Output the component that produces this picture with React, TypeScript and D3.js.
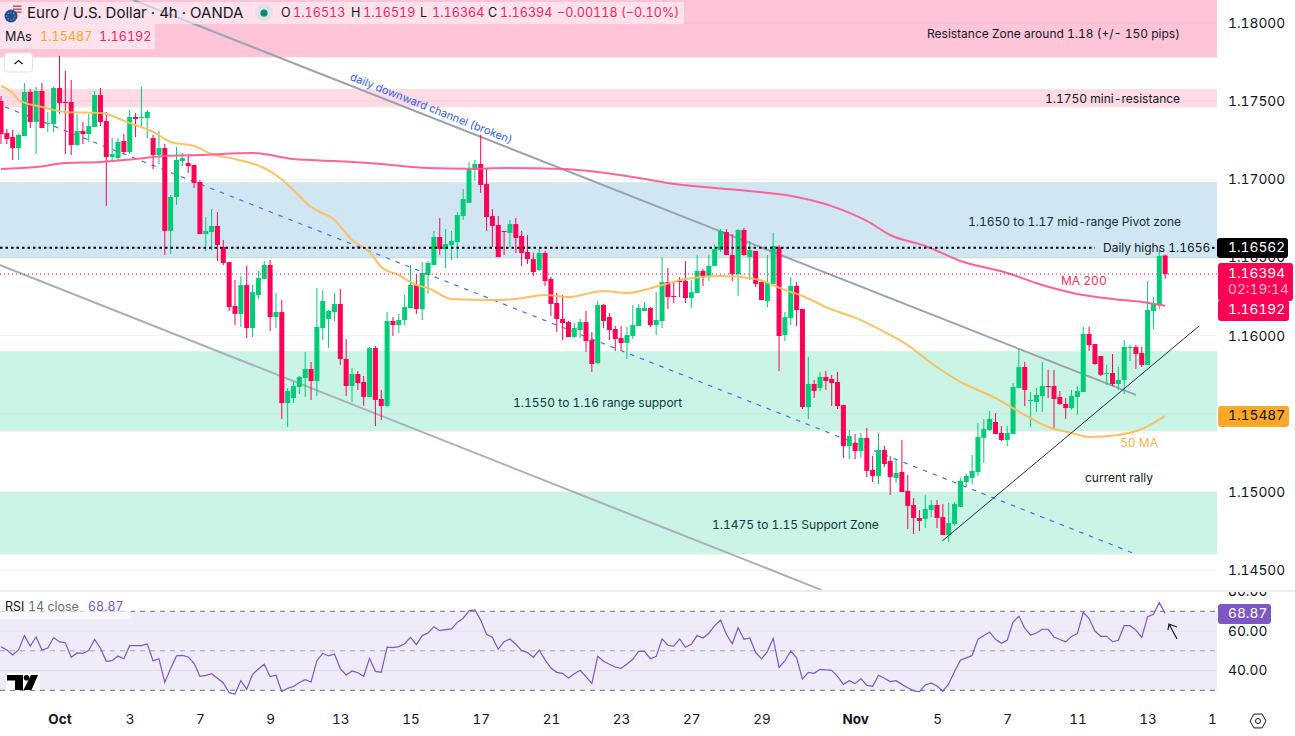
import { useEffect, useRef } from 'react';
import * as d3 from 'd3';

const W = 1295;
const H = 736;
const PANE_R = 1217;
const FONT = 'Inter, "Noto Sans", sans-serif';

const RED = '#ff0055';
const GREEN = '#00cc77';
const PINK = '#ff5c8f';
const ORANGE = '#ffbe5c';
const PURPLE = '#7e57c2';
const INK = '#131722';

// 4h candles, oldest first
const opens = [
  1.17501,1.17296,1.17271,1.17200,1.17277,1.17559,1.17367,1.17565,1.17354,1.17354,
  1.17584,1.17495,1.17495,1.17220,1.17309,1.17290,1.17335,1.17539,1.17373,1.17143,
  1.17136,1.17245,1.17175,1.17399,1.17392,1.17392,1.17264,1.17156,1.17200,1.16670,
  1.16887,1.17117,1.17104,1.17092,1.16983,1.16650,1.16663,1.16702,1.16567,1.16471,
  1.16190,1.16139,1.16324,1.16049,1.16260,1.16363,1.16452,1.16119,1.16151,1.15569,
  1.15601,1.15672,1.15729,1.15787,1.15710,1.16049,1.16107,1.16151,1.16203,1.15851,
  1.15678,1.15755,1.15704,1.15608,1.15921,1.15595,1.15550,1.16094,1.16068,1.16100,
  1.16177,1.16324,1.16171,1.16388,1.16452,1.16631,1.16554,1.16580,1.16599,1.16765,
  1.16849,1.17060,1.17098,1.16970,1.16765,1.16708,1.16670,1.16657,1.16714,1.16638,
  1.16535,1.16490,1.16420,1.16529,1.16363,1.16209,1.16107,1.16087,1.15992,1.16036,
  1.16087,1.15972,1.15825,1.16196,1.16119,1.16043,1.15985,1.15953,1.15998,1.16062,
  1.16158,1.16177,1.16068,1.16094,1.16343,1.16254,1.16356,1.16350,1.16241,1.16273,
  1.16414,1.16382,1.16446,1.16548,1.16663,1.16516,1.16394,1.16676,1.16503,1.16542,
  1.16343,1.16222,1.16331,1.16567,1.16004,1.16113,1.16318,1.16171,1.15544,1.15691,
  1.15665,1.15736,1.15723,1.15704,1.15557,1.15294,1.15314,1.15262,1.15346,1.15141,
  1.15103,1.15269,1.15198,1.15090,1.15128,1.15007,1.14917,1.14834,1.14828,1.14885,
  1.14917,1.14840,1.14725,1.14796,1.14904,1.15064,1.15090,1.15128,1.15346,1.15397,
  1.15448,1.15378,1.15333,1.15371,1.15665,1.15800,1.15582,1.15576,1.15614,1.15678,
  1.15678,1.15608,1.15563,1.15537,1.15608,1.15640,1.16011,1.15947,1.15870,1.15755,
  1.15761,1.15691,1.15717,1.15921,1.15928,1.15889,1.15813,1.16158,1.16196,1.16513,
];
const highs = [
  1.17533,1.17322,1.17316,1.17290,1.17616,1.17578,1.17591,1.17616,1.17431,1.17591,
  1.17789,1.17693,1.17635,1.17418,1.17367,1.17418,1.17565,1.17584,1.17431,1.17264,
  1.17264,1.17290,1.17443,1.17424,1.17591,1.17443,1.17284,1.17309,1.17226,1.16900,
  1.17207,1.17168,1.17156,1.17092,1.16996,1.16759,1.16810,1.16791,1.16612,1.16471,
  1.16356,1.16382,1.16446,1.16324,1.16414,1.16478,1.16484,1.16273,1.16228,1.15665,
  1.15704,1.15742,1.15896,1.15832,1.16305,1.16292,1.16164,1.16273,1.16299,1.15979,
  1.15793,1.15774,1.15742,1.15928,1.15934,1.15653,1.16151,1.16119,1.16139,1.16260,
  1.16452,1.16394,1.16471,1.16478,1.16670,1.16753,1.16682,1.16670,1.16791,1.16938,
  1.17111,1.17124,1.17284,1.17072,1.16810,1.16765,1.16670,1.16740,1.16753,1.16670,
  1.16644,1.16529,1.16554,1.16542,1.16375,1.16273,1.16260,1.16094,1.16081,1.16107,
  1.16158,1.16024,1.16222,1.16203,1.16145,1.16062,1.16062,1.16056,1.16196,1.16203,
  1.16215,1.16183,1.16279,1.16503,1.16433,1.16343,1.16375,1.16478,1.16356,1.16516,
  1.16426,1.16516,1.16586,1.16682,1.16682,1.16650,1.16682,1.16689,1.16606,1.16542,
  1.16343,1.16516,1.16657,1.16580,1.16151,1.16375,1.16343,1.16171,1.15864,1.15717,
  1.15768,1.15774,1.15749,1.15768,1.15557,1.15397,1.15371,1.15378,1.15410,1.15230,
  1.15378,1.15294,1.15230,1.15211,1.15333,1.15109,1.14962,1.14885,1.14981,1.14949,
  1.14949,1.14923,1.14930,1.14936,1.15090,1.15115,1.15237,1.15442,1.15467,1.15518,
  1.15505,1.15422,1.15422,1.15697,1.15915,1.15832,1.15640,1.15665,1.15832,1.15781,
  1.15781,1.15646,1.15601,1.15653,1.15678,1.16056,1.16056,1.15947,1.15870,1.15813,
  1.15883,1.15800,1.15972,1.15940,1.15940,1.15928,1.16350,1.16247,1.16561,1.16519,
];
const lows = [
  1.17226,1.17226,1.17124,1.17124,1.17277,1.17328,1.17162,1.17328,1.17303,1.17303,
  1.17418,1.17162,1.17156,1.17213,1.17226,1.17239,1.17335,1.17341,1.16829,1.17124,
  1.17124,1.17162,1.17162,1.17271,1.17328,1.17264,1.17066,1.17098,1.16516,1.16522,
  1.16836,1.17085,1.17040,1.16945,1.16650,1.16542,1.16548,1.16478,1.16452,1.16158,
  1.16068,1.16056,1.15985,1.15992,1.16235,1.16363,1.16030,1.16049,1.15467,1.15416,
  1.15569,1.15627,1.15608,1.15589,1.15614,1.15972,1.15921,1.16094,1.15813,1.15614,
  1.15576,1.15653,1.15550,1.15608,1.15422,1.15461,1.15544,1.15998,1.16017,1.16068,
  1.16177,1.16139,1.16100,1.16267,1.16452,1.16516,1.16433,1.16484,1.16497,1.16740,
  1.16849,1.16989,1.16913,1.16670,1.16567,1.16503,1.16516,1.16567,1.16529,1.16446,
  1.16458,1.16382,1.16414,1.16318,1.16126,1.16024,1.15972,1.15992,1.15985,1.15985,
  1.15896,1.15768,1.15819,1.16049,1.15972,1.15902,1.15908,1.15851,1.15979,1.16062,
  1.16158,1.16056,1.16004,1.16049,1.16171,1.16209,1.16247,1.16209,1.16177,1.16273,
  1.16318,1.16350,1.16446,1.16535,1.16516,1.16350,1.16254,1.16510,1.16356,1.16311,
  1.16228,1.16183,1.16331,1.15774,1.15966,1.16068,1.16062,1.15531,1.15467,1.15601,
  1.15646,1.15653,1.15550,1.15531,1.15218,1.15211,1.15211,1.15218,1.15096,1.15064,
  1.15051,1.15160,1.14981,1.15058,1.15000,1.14764,1.14732,1.14751,1.14770,1.14840,
  1.14770,1.14725,1.14680,1.14783,1.14904,1.15032,1.15051,1.15103,1.15186,1.15390,
  1.15371,1.15326,1.15294,1.15371,1.15665,1.15550,1.15416,1.15512,1.15512,1.15601,
  1.15410,1.15557,1.15467,1.15525,1.15493,1.15640,1.15902,1.15813,1.15742,1.15685,
  1.15678,1.15653,1.15627,1.15838,1.15787,1.15800,1.15813,1.16043,1.16171,1.16364,
];
const closes = [
  1.17290,1.17258,1.17200,1.17284,1.17559,1.17367,1.17565,1.17328,1.17360,1.17584,
  1.17488,1.17488,1.17220,1.17309,1.17290,1.17341,1.17539,1.17367,1.17143,1.17162,
  1.17239,1.17175,1.17399,1.17386,1.17399,1.17431,1.17156,1.17200,1.16670,1.16887,
  1.17124,1.17136,1.17085,1.16977,1.16650,1.16670,1.16702,1.16580,1.16465,1.16183,
  1.16139,1.16324,1.16049,1.16279,1.16369,1.16452,1.16119,1.16151,1.15569,1.15646,
  1.15678,1.15736,1.15787,1.15710,1.16056,1.16222,1.16158,1.16203,1.15851,1.15678,
  1.15755,1.15697,1.15608,1.15921,1.15589,1.15550,1.16094,1.16068,1.16100,1.16183,
  1.16324,1.16171,1.16401,1.16465,1.16631,1.16554,1.16586,1.16606,1.16772,1.16874,
  1.17066,1.17098,1.16964,1.16759,1.16702,1.16503,1.16663,1.16714,1.16625,1.16529,
  1.16490,1.16407,1.16529,1.16350,1.16203,1.16107,1.16081,1.15992,1.16049,1.16087,
  1.15966,1.15819,1.16196,1.16094,1.16036,1.15979,1.15953,1.16004,1.16068,1.16177,
  1.16177,1.16068,1.16100,1.16343,1.16247,1.16247,1.16343,1.16241,1.16279,1.16414,
  1.16382,1.16446,1.16554,1.16670,1.16516,1.16394,1.16676,1.16516,1.16548,1.16331,
  1.16228,1.16337,1.16574,1.15998,1.16119,1.16318,1.16164,1.15544,1.15691,1.15646,
  1.15736,1.15710,1.15697,1.15550,1.15294,1.15358,1.15262,1.15346,1.15135,1.15103,
  1.15269,1.15179,1.15096,1.15122,1.15000,1.14911,1.14834,1.14815,1.14892,1.14917,
  1.14834,1.14725,1.14802,1.14923,1.15071,1.15103,1.15135,1.15352,1.15403,1.15467,
  1.15371,1.15333,1.15378,1.15672,1.15800,1.15653,1.15589,1.15621,1.15678,1.15672,
  1.15595,1.15563,1.15537,1.15614,1.15646,1.16011,1.15940,1.15819,1.15749,1.15761,
  1.15691,1.15717,1.15928,1.15928,1.15883,1.15813,1.16164,1.16203,1.16510,1.16394,
];

const rsiValues = [
  52.1,50.4,47.9,50.4,57.7,52.4,57.0,50.4,51.4,56.7,
  54.5,54.1,46.7,48.9,48.7,50.1,55.8,51.3,44.7,45.0,
  47.4,46.0,52.6,52.6,52.6,53.5,44.9,46.0,34.0,41.1,
  47.4,47.7,46.9,43.7,37.1,37.6,38.4,36.1,33.7,28.8,
  28.1,34.9,30.5,38.1,40.8,43.2,36.9,37.6,29.3,31.0,
  31.9,34.0,35.4,34.2,45.0,48.7,47.4,48.4,41.0,37.8,
  39.8,38.9,37.1,46.2,39.6,39.1,51.9,51.6,52.1,53.6,
  56.8,53.1,57.7,59.0,62.2,60.2,60.7,61.1,64.4,66.5,
  70.2,70.7,65.6,58.4,56.8,50.8,54.6,56.0,53.3,50.1,
  49.1,46.7,50.4,45.4,41.3,39.1,38.6,36.2,38.4,40.1,
  36.9,33.5,47.2,44.7,43.2,41.8,41.1,43.3,45.7,49.7,
  49.7,46.0,47.2,56.0,52.8,52.4,56.0,51.8,53.3,57.7,
  56.5,58.9,62.7,65.6,58.4,53.5,61.7,55.8,56.5,49.2,
  45.9,49.6,56.3,41.6,44.9,49.9,46.4,35.7,39.1,38.6,
  40.6,40.3,40.1,37.1,33.0,34.9,33.4,35.9,32.5,32.0,
  37.6,36.1,34.4,34.9,33.0,31.3,29.7,29.3,32.7,33.7,
  32.2,29.5,33.2,39.5,45.2,46.4,47.6,55.8,57.7,59.4,
  55.8,53.8,55.3,64.6,67.5,61.4,58.0,59.0,60.9,60.9,
  57.0,55.7,54.5,57.3,58.7,69.5,66.3,60.0,57.3,57.3,
  54.6,55.3,62.7,62.7,60.5,56.8,67.3,68.5,74.4,68.87,
];

// moving averages, read at these candle positions
const ma200Index = [0,6,11,17,23,28,34,43,50,57,65,73,80,86,96,102,111,114,122,128,136,142,148,152,158,164,172,178,184,190,195,199];
const ma200Values = [
  1.17066,1.17079,1.17104,1.17111,1.17130,1.17149,1.17156,1.17168,1.17130,1.17117,1.17098,
  1.17072,1.17068,1.17072,1.17066,1.17047,1.16996,1.16977,1.16945,1.16925,1.16887,1.16829,
  1.16734,1.16644,1.16574,1.16478,1.16401,1.16324,1.16267,1.16235,1.16215,1.16192,
];
const ma50Index = [0,2,3,7,11,17,22,26,29,33,36,40,45,47,50,53,57,60,63,65,68,71,73,77,84,88,93,97,103,107,113,117,123,129,134,137,141,147,151,155,159,164,170,175,179,183,186,191,195,199];
const ma50Values = [
  1.17597,1.17552,1.17507,1.17463,1.17431,1.17424,1.17360,1.17303,1.17239,1.17213,1.17162,
  1.17130,1.17072,1.17028,1.16932,1.16823,1.16740,1.16612,1.16535,1.16439,1.16388,1.16324,
  1.16305,1.16235,1.16228,1.16235,1.16260,1.16247,1.16286,1.16273,1.16324,1.16363,1.16382,
  1.16363,1.16292,1.16254,1.16183,1.16100,1.16024,1.15940,1.15825,1.15704,1.15601,1.15493,
  1.15416,1.15378,1.15352,1.15365,1.15403,1.15487,
];

const priceTicks = [1.18, 1.175, 1.17, 1.165, 1.16, 1.155, 1.15, 1.145];
const rsiTicks = [80, 60, 40];
const rsiGrid = [60, 40];
const timeTickIndex = [10, 22, 34, 46, 58, 70, 82, 94, 106, 118, 130, 146, 160, 172, 184, 196, 207];
const timeTickLabels = ['Oct', '3', '7', '9', '13', '15', '17', '21', '23', '27', '29', 'Nov', '5', '7', '11', '13', '1'];

const zoneTops = [1.1815, 1.17578, 1.16983, 1.15902, 1.15];
const zoneBottoms = [1.17782, 1.17463, 1.16497, 1.1539, 1.14604];
const zoneFills = ['rgba(255,0,85,0.23)', 'rgba(255,0,85,0.14)', 'rgba(41,140,200,0.22)', 'rgba(0,204,136,0.21)', 'rgba(0,204,136,0.21)'];

const LAST_PRICE = 1.16394;
const DAILY_HIGH = 1.16562;

export default function App() {
  const svgRef = useRef<SVGSVGElement>(null);

  useEffect(() => {
    if (!svgRef.current) return;
    const svg = d3.select(svgRef.current);
    svg.selectAll('*').remove();

    const x = d3.scaleLinear().domain([0, 199]).range([1, 1165.15]);
    const y = d3.scaleLinear().domain([1.18, 1.145]).range([23, 570.2]);
    const r = d3.scaleLinear().domain([70, 30]).range([611.3, 690.3]);

    const defs = svg.append('defs');
    defs.append('clipPath').attr('id', 'main-clip').append('rect').attr('width', PANE_R).attr('height', 590);
    defs.append('clipPath').attr('id', 'rsi-clip').append('rect').attr('y', 592).attr('width', PANE_R).attr('height', 108);

    svg.append('rect').attr('width', W).attr('height', H).attr('fill', '#fff');

    // main pane
    const main = svg.append('g').attr('clip-path', 'url(#main-clip)');
    main.selectAll('line.grid').data(priceTicks).join('line')
      .attr('class', 'grid')
      .attr('x1', 0).attr('x2', PANE_R)
      .attr('y1', d => y(d)).attr('y2', d => y(d))
      .attr('stroke', '#f0f1f4').attr('stroke-width', 1);

    main.selectAll('rect.zone').data(zoneTops).join('rect')
      .attr('class', 'zone')
      .attr('x', 0).attr('width', PANE_R)
      .attr('y', d => y(d))
      .attr('height', (d, i) => y(zoneBottoms[i]) - y(d))
      .attr('fill', (d, i) => zoneFills[i]);
    main.selectAll('line.zone-edge').data([...zoneBottoms, ...zoneTops.slice(1)]).join('line')
      .attr('class', 'zone-edge')
      .attr('x1', 0).attr('x2', PANE_R)
      .attr('y1', d => y(d) + 0.5).attr('y2', d => y(d) + 0.5)
      .attr('stroke', 'rgba(250,235,200,0.5)');

    // channel and trend lines
    const annotation = (from: [number, number], to: [number, number], color: string, width: number, dash?: string) =>
      main.append('line')
        .attr('x1', x(from[0])).attr('y1', y(from[1]))
        .attr('x2', x(to[0])).attr('y2', y(to[1]))
        .attr('stroke', color).attr('stroke-width', width)
        .attr('stroke-dasharray', dash ?? null);
    annotation([0.7, 1.17463], [193.9, 1.14604], '#4473f0', 1.2, '4.5 6');
    annotation([22.6, 1.18147], [194, 1.15621], '#9aa2b1', 2);
    annotation([-0.2, 1.16452], [140.3, 1.14373], '#a9afbb', 2);

    // candles
    const candleIdx = d3.range(opens.length);
    const color = (i: number) => (closes[i] >= opens[i] ? GREEN : RED);
    main.selectAll('line.wick').data(candleIdx).join('line')
      .attr('class', 'wick')
      .attr('x1', i => x(i)).attr('x2', i => x(i))
      .attr('y1', i => y(highs[i])).attr('y2', i => y(lows[i]))
      .attr('stroke', color).attr('stroke-width', 1);
    main.selectAll('rect.body').data(candleIdx).join('rect')
      .attr('class', 'body')
      .attr('x', i => x(i) - 2.5).attr('width', 5)
      .attr('y', i => y(Math.max(opens[i], closes[i])))
      .attr('height', i => Math.max(1, Math.abs(y(opens[i]) - y(closes[i]))))
      .attr('fill', color);

    // moving averages
    const maLine = (idx: number[], vals: number[], stroke: string) => {
      const line = d3.line<number>().x(i => x(idx[i])).y(i => y(vals[i])).curve(d3.curveMonotoneX);
      main.append('path')
        .attr('d', line(d3.range(idx.length)))
        .attr('fill', 'none').attr('stroke', stroke).attr('stroke-width', 2).attr('opacity', 0.95);
    };
    maLine(ma50Index, ma50Values, ORANGE);
    maLine(ma200Index, ma200Values, PINK);

    annotation([160.9, 1.14687], [204.8, 1.16062], '#1f2b45', 1);

    // price lines
    main.append('line')
      .attr('x1', 0).attr('x2', PANE_R)
      .attr('y1', y(LAST_PRICE)).attr('y2', y(LAST_PRICE))
      .attr('stroke', RED).attr('stroke-width', 1).attr('stroke-dasharray', '1 3');
    const dotted = [[0, 1095], [1212, PANE_R]];
    main.selectAll('line.high').data(dotted).join('line')
      .attr('class', 'high')
      .attr('x1', d => d[0]).attr('x2', d => d[1])
      .attr('y1', y(DAILY_HIGH)).attr('y2', y(DAILY_HIGH))
      .attr('stroke', '#000').attr('stroke-width', 2).attr('stroke-dasharray', '2.5 3');

    // notes on the chart
    const note = (text: string, tx: number, ty: number, fill: string, size = 12) =>
      svg.append('text').attr('x', tx).attr('y', ty + 1).attr('fill', fill)
        .attr('font-family', FONT).attr('font-size', size).attr('dominant-baseline', 'middle').text(text);
    note('Resistance Zone around 1.18 (+/- 150 pips)', 927, 34, INK);
    note('1.1750 mini-resistance', 1045, 99, INK);
    note('1.1650 to 1.17 mid-range Pivot zone', 968, 222, '#10303f');
    note('Daily highs 1.1656', 1103, 248, INK);
    note('MA 200', 1061, 281, '#f7325f');
    note('50 MA', 1120, 443, '#f9b24e');
    note('current rally', 1085, 478, INK);
    note('1.1550 to 1.16 range support', 513, 403, '#0c3a40');
    note('1.1475 to 1.15 Support Zone', 712, 525, '#0c3a40');
    svg.append('text')
      .attr('transform', `translate(431,109) rotate(21.6)`)
      .attr('text-anchor', 'middle').attr('dominant-baseline', 'middle')
      .attr('font-family', FONT).attr('font-size', 11).attr('fill', '#2f63f0')
      .text('daily downward channel (broken)');

    // legend rows
    svg.append('rect').attr('x', 0).attr('y', 2).attr('width', 684).attr('height', 22).attr('fill', '#fff').attr('opacity', 0.5);
    svg.append('rect').attr('x', 0).attr('y', 24).attr('width', 155).attr('height', 25).attr('fill', '#fff').attr('opacity', 0.5);

    const flag = svg.append('g');
    flag.append('circle').attr('cx', 17).attr('cy', 9).attr('r', 6).attr('fill', '#e8e8ee');
    [5.5, 8.5, 11.5].forEach(fy => flag.append('rect').attr('x', 13).attr('y', fy).attr('width', 8.5).attr('height', 1.4).attr('fill', '#d9405a'));
    flag.append('circle').attr('cx', 11).attr('cy', 16).attr('r', 6.5).attr('fill', '#1f4f9c');
    d3.range(8).forEach(k => flag.append('circle')
      .attr('cx', 11 + 4 * Math.cos((k * Math.PI) / 4)).attr('cy', 16 + 4 * Math.sin((k * Math.PI) / 4))
      .attr('r', 0.6).attr('fill', '#f5c518'));

    note('Euro / U.S. Dollar · 4h · OANDA', 27, 12.5, INK, 15);
    svg.append('circle').attr('cx', 264).attr('cy', 13).attr('r', 9).attr('fill', '#dde1e5');
    svg.append('circle').attr('cx', 264).attr('cy', 13).attr('r', 3.6).attr('fill', '#0a8a76');

    const ohlcLabels = ['O', 'H', 'L', 'C'];
    const ohlcValues = ['1.16513', '1.16519', '1.16364', '1.16394'];
    const ohlcX = [281, 351, 420, 488];
    ohlcLabels.forEach((lab, i) => {
      note(lab, ohlcX[i], 12.5, INK, 12.6);
      note(ohlcValues[i], ohlcX[i] + 12, 12.5, '#f7245f', 12.6);
    });
    note('−0.00118 (−0.10%)', 557, 12.5, '#f7245f', 12.6);

    note('MAs', 5, 36.5, INK, 12.6);
    note('1.15487', 40, 36.5, '#ffa726', 12.6);
    note('1.16192', 99, 36.5, '#f7245f', 12.6);

    svg.append('rect').attr('x', 4.5).attr('y', 53).attr('width', 28).attr('height', 19).attr('rx', 3)
      .attr('fill', '#fff').attr('stroke', '#e0e3eb');
    svg.append('path').attr('d', 'M14.5 64 L18.5 60.5 L22.5 64').attr('fill', 'none').attr('stroke', INK).attr('stroke-width', 1.3);

    // price axis
    const priceAxis = svg.append('g').attr('transform', 'translate(1228,0)')
      .call(d3.axisRight(y).tickValues(priceTicks).tickFormat(d3.format('.5f') as any).tickSize(0).tickPadding(0));
    priceAxis.select('.domain').remove();
    priceAxis.selectAll('text').attr('font-family', FONT).attr('font-size', 13.75).attr('fill', INK);

    const tag = (tx: number, ty: number, tw: number, th: number, fill: string) =>
      svg.append('rect').attr('x', tx).attr('y', ty).attr('width', tw).attr('height', th).attr('rx', 3).attr('fill', fill);
    tag(1217, 238, 71, 20, '#000');
    tag(1218, 263, 75, 38, RED);
    tag(1218, 300, 71, 21, RED);
    tag(1218, 406, 71, 21, '#ffa726');
    note('1.16562', 1228, 247.5, '#fff', 13.75);
    note('1.16394', 1228, 273.5, '#fff', 13.75);
    note('02:19:14', 1228, 289, '#ffb3cc', 13.75);
    note('1.16192', 1228, 309.5, '#fff', 13.75);
    note('1.15487', 1228, 415.5, INK, 13.75);

    // separator between panes
    svg.append('rect').attr('y', 590).attr('width', W).attr('height', 2).attr('fill', '#eceef2');

    // RSI pane
    const rsi = svg.append('g').attr('clip-path', 'url(#rsi-clip)');
    rsi.append('rect').attr('x', 0).attr('width', PANE_R).attr('y', r(70)).attr('height', r(30) - r(70)).attr('fill', 'rgba(126,87,194,0.12)');
    rsi.selectAll('line.rsi-grid').data(rsiGrid).join('line')
      .attr('class', 'rsi-grid')
      .attr('x1', 0).attr('x2', PANE_R)
      .attr('y1', d => r(d)).attr('y2', d => r(d))
      .attr('stroke', '#e3dfec');
    rsi.selectAll('line.rsi-band').data([70, 50, 30]).join('line')
      .attr('class', 'rsi-band')
      .attr('x1', 0).attr('x2', PANE_R)
      .attr('y1', d => r(d)).attr('y2', d => r(d))
      .attr('stroke', d => (d === 50 ? '#a9a6b2' : '#6f6c7c'))
      .attr('stroke-width', 1).attr('stroke-dasharray', '5 5');
    const rsiLine = d3.line<number>().x((d, i) => x(i)).y(d => r(d));
    rsi.append('path').attr('d', rsiLine(rsiValues))
      .attr('fill', 'none').attr('stroke', PURPLE).attr('stroke-width', 1.2);

    svg.append('rect').attr('x', 0).attr('y', 600).attr('width', 131).attr('height', 19).attr('fill', '#fff').attr('opacity', 0.6);
    note('RSI', 5, 607, INK, 12.4);
    note('14 close', 28, 607, '#6a6d78', 12.4);
    note('68.87', 88, 607, PURPLE, 12.4);

    const rsiAxis = svg.append('g').attr('transform', 'translate(1228,0)')
      .call(d3.axisRight(r).tickValues(rsiTicks).tickFormat(d3.format('.2f') as any).tickSize(0).tickPadding(0));
    rsiAxis.select('.domain').remove();
    rsiAxis.selectAll('text').attr('font-family', FONT).attr('font-size', 13.75).attr('fill', INK);
    // the 80.00 label is cut off by the pane above it
    svg.append('rect').attr('x', PANE_R).attr('y', 578).attr('width', 78).attr('height', 12).attr('fill', '#fff');
    svg.append('rect').attr('y', 590).attr('x', PANE_R).attr('width', 78).attr('height', 2).attr('fill', '#eceef2');
    tag(1218, 604, 53, 20, PURPLE);
    note('68.87', 1228, 613.5, '#fff', 13.75);

    // hand drawn arrow
    svg.append('path')
      .attr('d', 'M1177 639 L1169 624 M1168 630 L1169 624 L1177 627')
      .attr('fill', 'none').attr('stroke', INK).attr('stroke-width', 1.2);

    // logo
    svg.append('rect').attr('x', 6).attr('y', 673).attr('width', 34).attr('height', 17).attr('fill', '#fff');
    svg.append('path').attr('d', 'M7 675 H23 V690 H15 V680.5 H7 Z').attr('fill', '#000');
    svg.append('circle').attr('cx', 26.5).attr('cy', 677.8).attr('r', 2.8).attr('fill', '#000');
    svg.append('path').attr('d', 'M31 675 H38 L31.5 690 H23.5 Z').attr('fill', '#000');

    // time axis
    const timeAxis = svg.append('g').attr('transform', 'translate(0,714)')
      .call(d3.axisBottom(x).tickValues(timeTickIndex)
        .tickFormat((d, i) => timeTickLabels[i]).tickSize(0).tickPadding(0));
    timeAxis.select('.domain').remove();
    timeAxis.selectAll('text')
      .attr('font-family', FONT).attr('font-size', 13.5).attr('fill', INK)
      .attr('font-weight', (d, i) => (timeTickLabels[i] === 'Oct' || timeTickLabels[i] === 'Nov' ? 700 : 400));

    // settings icon
    const cx = 1258;
    const cy = 721;
    const hex = d3.range(6).map(k => [cx + 8 * Math.cos((k * Math.PI) / 3), cy + 8 * Math.sin((k * Math.PI) / 3)] as [number, number]);
    svg.append('path').attr('d', d3.line()(hex) + 'Z').attr('fill', 'none').attr('stroke', INK).attr('stroke-width', 1);
    svg.append('circle').attr('cx', cx).attr('cy', cy).attr('r', 2.5).attr('fill', 'none').attr('stroke', INK);
  }, []);

  return (
    <svg
      ref={svgRef}
      width={W}
      height={H}
      viewBox={`0 0 ${W} ${H}`}
      style={{ position: 'fixed', left: 0, top: 0, display: 'block', fontVariantNumeric: 'tabular-nums' }}
    />
  );
}
